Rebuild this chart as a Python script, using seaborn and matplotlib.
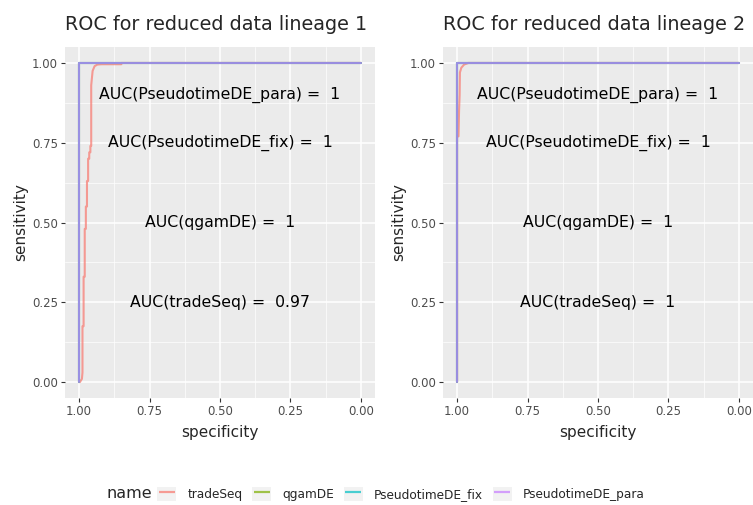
import numpy as np
import pandas as pd
import matplotlib
matplotlib.use("Agg")
import matplotlib.pyplot as plt
import seaborn as sns
from matplotlib.lines import Line2D
from matplotlib.patches import Rectangle
from matplotlib.legend_handler import HandlerTuple

methods = ["tradeSeq", "qgamDE", "PseudotimeDE_fix", "PseudotimeDE_para"]
colors = ["#F8766D", "#7CAE00", "#00BFC4", "#C77CFF"]

# Lineage 1 ROC curves (specificity, sensitivity)
l1_tradeseq_spec = [1.0, 0.997, 0.990, 0.988, 0.988, 0.984, 0.984, 0.980, 0.980, 0.976, 0.976, 0.972, 0.972,
                    0.968, 0.968, 0.964, 0.964, 0.960, 0.960, 0.957, 0.957, 0.952, 0.945, 0.935, 0.92, 0.85, 0.85, 0.0]
l1_tradeseq_sens = [0.0, 0.0, 0.01, 0.03, 0.175, 0.175, 0.33, 0.33, 0.48, 0.48, 0.55, 0.55, 0.63,
                    0.63, 0.70, 0.70, 0.72, 0.72, 0.74, 0.74, 0.93, 0.975, 0.99, 0.995, 0.996, 0.996, 1.0, 1.0]
l1_perfect_spec = [1.0, 1.0, 0.0]
l1_perfect_sens = [0.0, 1.0, 1.0]

# Lineage 2 ROC curves
l2_tradeseq_spec = [1.0, 1.0, 0.995, 0.993, 0.991, 0.990, 0.985, 0.975, 0.96, 0.0]
l2_tradeseq_sens = [0.0, 0.77, 0.77, 0.85, 0.90, 0.97, 0.985, 0.995, 1.0, 1.0]
l2_perfect_spec = [1.0, 1.0, 0.0]
l2_perfect_sens = [0.0, 1.0, 1.0]

auc_labels_1 = ["AUC(PseudotimeDE_para) =  1", "AUC(PseudotimeDE_fix) =  1",
                "AUC(qgamDE) =  1", "AUC(tradeSeq) =  0.97"]
auc_labels_2 = ["AUC(PseudotimeDE_para) =  1", "AUC(PseudotimeDE_fix) =  1",
                "AUC(qgamDE) =  1", "AUC(tradeSeq) =  1"]
auc_y = [0.9, 0.75, 0.5, 0.25]
auc_x = 0.5

titles = ["ROC for reduced data lineage 1", "ROC for reduced data lineage 2"]
ticks = [1.0, 0.75, 0.5, 0.25, 0.0]
tick_labels = ["1.00", "0.75", "0.50", "0.25", "0.00"]


def build_df(ts_spec, ts_sens, p_spec, p_sens):
    rows = []
    for m in methods:
        if m == "tradeSeq":
            sp, se = ts_spec, ts_sens
        else:
            sp, se = p_spec, p_sens
        for i, (a, b) in enumerate(zip(sp, se)):
            rows.append({"name": m, "specificity": a, "sensitivity": b, "order": i})
    return pd.DataFrame(rows)


dfs = [build_df(l1_tradeseq_spec, l1_tradeseq_sens, l1_perfect_spec, l1_perfect_sens),
       build_df(l2_tradeseq_spec, l2_tradeseq_sens, l2_perfect_spec, l2_perfect_sens)]

sns.set_theme(style="darkgrid")
plt.rcParams["font.family"] = ["DejaVu Sans"]

W, H = 753, 505
fig = plt.figure(figsize=(W / 100, H / 100), dpi=100)
fig.patch.set_facecolor("white")
panels = [(65, 375), (443, 753)]
top, bottom = 47, 398
axes = []
for (l, r) in panels:
    ax = fig.add_axes([l / W, 1 - bottom / H, (r - l) / W, (bottom - top) / H])
    axes.append(ax)

LINE_ALPHA = 0.7
palette = dict(zip(methods, colors))
for k, ax in enumerate(axes):
    ax.set_facecolor("#EBEBEB")
    df = dfs[k]
    sns.lineplot(data=df, x="specificity", y="sensitivity", hue="name", hue_order=methods,
                 palette=palette, estimator=None, sort=False, units="name",
                 linewidth=1.5, alpha=LINE_ALPHA, ax=ax, legend=False)
    ax.set_xlim(1.05, -0.05)
    ax.set_ylim(-0.05, 1.05)
    ax.set_xticks(ticks)
    ax.set_xticklabels(tick_labels)
    ax.set_yticks(ticks)
    ax.set_yticklabels(tick_labels)
    ax.set_xticks([0.875, 0.625, 0.375, 0.125], minor=True)
    ax.set_yticks([0.875, 0.625, 0.375, 0.125], minor=True)
    ax.grid(which="major", color="white", linewidth=1.1)
    ax.grid(which="minor", color="white", linewidth=0.5)
    ax.set_axisbelow(True)
    for s in ax.spines.values():
        s.set_visible(False)
    ax.tick_params(which="major", length=3, width=0.8, color="#333333",
                   labelsize=8.5, labelcolor="#4D4D4D", pad=2, bottom=True, left=True)
    ax.tick_params(which="minor", length=0)
    ax.set_xlabel("specificity", fontsize=11, labelpad=5)
    ax.set_ylabel("sensitivity", fontsize=11, labelpad=3)
    ax.set_title(titles[k], fontsize=13.8, loc="left", pad=12)
    labels = auc_labels_1 if k == 0 else auc_labels_2
    for lab, yy in zip(labels, auc_y):
        ax.text(auc_x, yy, lab, ha="center", va="center", fontsize=11.3, color="black")

# Legend
handles = []
for c in colors:
    box = Rectangle((0, 0), 1, 1, facecolor="#F2F2F2", edgecolor="none")
    ln = Line2D([0], [0], marker="_", markersize=11, markeredgewidth=1.6,
                color=c, alpha=LINE_ALPHA, linestyle="none")
    handles.append((box, ln))
leg = fig.legend(handles, methods, handler_map={tuple: HandlerTuple(ndivide=1, pad=0)},
                 loc="center left", bbox_to_anchor=(157 / W, 1 - 494 / H), ncol=4,
                 frameon=False, fontsize=8.7, handlelength=1.6, handleheight=1.5,
                 columnspacing=0.8, handletextpad=0.9, borderpad=0, borderaxespad=0)
fig.text(106 / W, 1 - 494 / H, "name", fontsize=11.5, va="center", ha="left")

fig.savefig("out.png", dpi=100, facecolor="white")
